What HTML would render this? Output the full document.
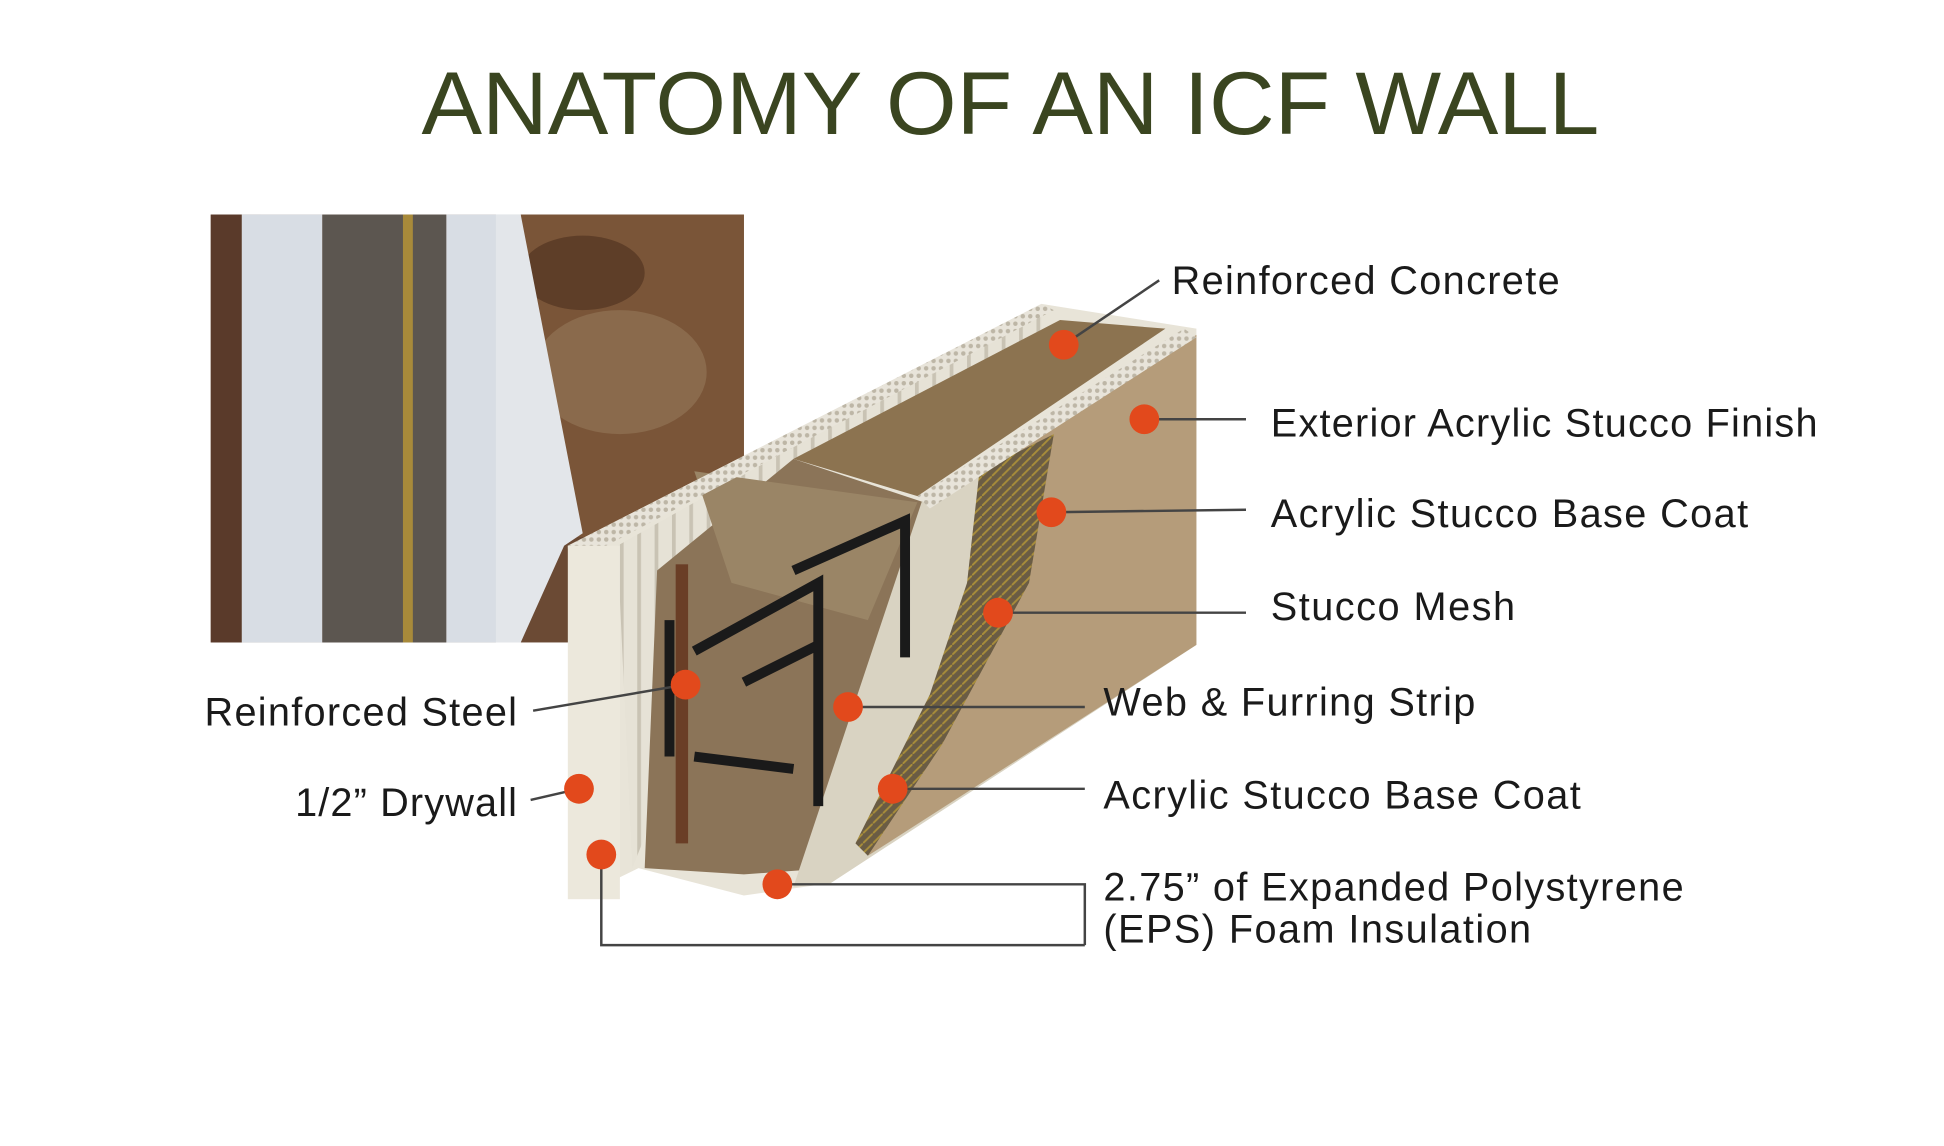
<!DOCTYPE html>
<html><head><meta charset="utf-8"><style>
html,body{margin:0;padding:0;background:#fff;}
svg{display:block;}
text{font-family:"Liberation Sans",sans-serif;}
</style></head><body>
<svg width="1944" height="1146" viewBox="0 0 1568 924" preserveAspectRatio="none" xmlns="http://www.w3.org/2000/svg">
<defs>
<pattern id="ribs" width="6" height="6" patternUnits="userSpaceOnUse"><rect width="6" height="6" fill="#e8e4da"/><circle cx="3" cy="3" r="1.8" fill="#bdb6a6"/></pattern>
<pattern id="vrib" width="14" height="10" patternUnits="userSpaceOnUse"><rect width="14" height="10" fill="#e6e2d6"/><rect x="10" width="3" height="10" fill="#c9c3b4"/></pattern>
<pattern id="mesh" width="8" height="8" patternUnits="userSpaceOnUse"><rect width="8" height="8" fill="#6a5c44"/><line x1="0" y1="8" x2="8" y2="0" stroke="#a88d3a" stroke-width="1.5"/></pattern>
</defs>
<rect width="1568" height="924" fill="#fff"/>
<text x="815" y="108" text-anchor="middle" font-size="72" fill="#3a4520" textLength="950" lengthAdjust="spacingAndGlyphs">ANATOMY OF AN ICF WALL</text>

<rect x="170" y="173" width="430" height="345" fill="#6b4a34"/>
<rect x="410" y="173" width="190" height="260" fill="#7a5538"/>
<ellipse cx="500" cy="300" rx="70" ry="50" fill="#8a6a4c"/>
<ellipse cx="470" cy="220" rx="50" ry="30" fill="#5e3e28"/>
<rect x="170" y="173" width="40" height="345" fill="#5a3a2a"/>
<rect x="195" y="173" width="65" height="345" fill="#d8dde4"/>
<rect x="260" y="173" width="100" height="345" fill="#5c5650"/>
<rect x="360" y="173" width="60" height="345" fill="#d8dde4"/>
<polygon points="400,173 420,173 470,430 455,440 420,518 400,518" fill="#e3e6ea"/>
<rect x="325" y="173" width="8" height="345" fill="#a88a3a"/>

<polygon points="458,440 840,245 965,265 965,520 670,712 600,722 515,700 470,722" fill="#e8e4d8"/>
<polygon points="498,440 840,248 842,300 640,370 510,700" fill="url(#vrib)"/>
<polygon points="640,370 855,258 940,265 740,400" fill="#8c7350"/>
<polygon points="520,700 530,460 640,370 745,405 670,700 600,705" fill="#8b7458"/>
<polygon points="560,380 740,405 700,500 590,470" fill="#9a8566"/>
<polygon points="745,400 790,380 965,270 965,520 670,712 640,715" fill="#d9d3c2"/>
<polygon points="790,380 965,270 965,520 700,690 760,560 790,470" fill="#b59c7a"/>
<polygon points="790,380 850,350 830,470 760,600 700,690 690,680 750,560 780,470" fill="url(#mesh)"/>
<polygon points="458,440 840,245 850,250 470,450" fill="url(#ribs)"/>
<polygon points="740,400 955,265 965,272 750,410" fill="url(#ribs)"/>
<rect x="458" y="440" width="42" height="285" fill="#ece8dc"/>
<rect x="545" y="455" width="10" height="225" fill="#6a3e26"/>
<g stroke="#1a1a1a" stroke-width="8" fill="none">
<path d="M540 500 L540 610 M560 525 L660 470 L660 650 M560 610 L640 620 M640 460 L730 420 L730 530 M600 550 L660 520"/>
</g>

<g stroke="#444" stroke-width="2" fill="none">
<line x1="858" y1="278" x2="935" y2="226"/>
<line x1="923" y1="338" x2="1005" y2="338"/>
<line x1="848" y1="413" x2="1005" y2="411"/>
<line x1="805" y1="494" x2="1005" y2="494"/>
<line x1="684" y1="570" x2="875" y2="570"/>
<line x1="720" y1="636" x2="875" y2="636"/>
<polyline points="627,713 875,713 875,762"/>
<polyline points="485,689 485,762 875,762"/>
<line x1="430" y1="573" x2="553" y2="552"/>
<line x1="428" y1="645" x2="467" y2="636"/>
</g>
<g fill="#e2491c">
<circle cx="858" cy="278" r="12"/><circle cx="923" cy="338" r="12"/><circle cx="848" cy="413" r="12"/>
<circle cx="805" cy="494" r="12"/><circle cx="684" cy="570" r="12"/><circle cx="720" cy="636" r="12"/>
<circle cx="627" cy="713" r="12"/><circle cx="485" cy="689" r="12"/><circle cx="553" cy="552" r="12"/>
<circle cx="467" cy="636" r="12"/>
</g>
<g font-size="32" fill="#1a1a1a" lengthAdjust="spacingAndGlyphs">
<text x="945" y="237" textLength="313">Reinforced Concrete</text>
<text x="1025" y="352" textLength="441">Exterior Acrylic Stucco Finish</text>
<text x="1025" y="425" textLength="385">Acrylic Stucco Base Coat</text>
<text x="1025" y="500" textLength="197">Stucco Mesh</text>
<text x="890" y="577" textLength="300">Web &amp; Furring Strip</text>
<text x="890" y="652" textLength="385">Acrylic Stucco Base Coat</text>
<text x="890" y="726" textLength="468">2.75” of Expanded Polystyrene</text>
<text x="890" y="760" textLength="345">(EPS) Foam Insulation</text>
<text x="165" y="585" textLength="252">Reinforced Steel</text>
<text x="238" y="658" textLength="179">1/2” Drywall</text>
</g>
</svg>
</body></html>
